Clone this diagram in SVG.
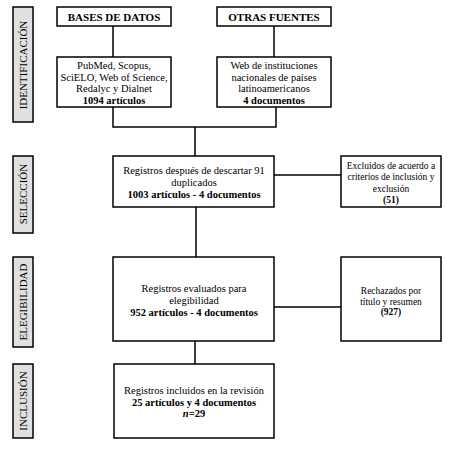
<svg xmlns="http://www.w3.org/2000/svg" width="456" height="454" viewBox="0 0 456 454">
<style>
.box{fill:#fff;stroke:#000;stroke-width:1.5}
.side{fill:#e0e0e0;stroke:#000;stroke-width:1.5}
.t{font-family:'Liberation Serif','Times New Roman',Times,Tinos,'DejaVu Serif',serif;font-size:10.5px;fill:#000;text-anchor:middle}
.s{font-size:9.5px}
.b{font-weight:bold}
.lbl{font-family:'Liberation Serif','Times New Roman',Times,Tinos,'DejaVu Serif',serif;font-size:11px;fill:#000;text-anchor:middle}
.c{stroke:#000;stroke-width:1.5;fill:none}
</style>
<rect width="456" height="454" fill="#fff"/>
<g id="connectors">
<path class="c" d="M113,26V57M274,26V57M113,107V127H276V107M195,127V156M274,175H341M196,207V257M274,307H341M195,341V364"/>
</g>
<g id="side-identificacion"><rect class="side" x="13" y="7" width="20" height="115"/><text class="lbl" transform="translate(27,65) rotate(-90)">IDENTIFICACIÓN</text></g>
<g id="side-seleccion"><rect class="side" x="13" y="156" width="20" height="77"/><text class="lbl" transform="translate(27,194) rotate(-90)">SELECCIÓN</text></g>
<g id="side-elegibilidad"><rect class="side" x="13" y="257" width="20" height="90"/><text class="lbl" transform="translate(27,302) rotate(-90)">ELEGIBILIDAD</text></g>
<g id="side-inclusion"><rect class="side" x="13" y="364" width="20" height="74"/><text class="lbl" transform="translate(27,401) rotate(-90)">INCLUSIÓN</text></g>
<g id="bases"><rect class="box" x="57" y="7" width="114" height="19"/><text class="t b" x="114" y="20.5" style="font-size:11px">BASES DE DATOS</text></g>
<g id="otras"><rect class="box" x="217" y="7" width="114" height="19"/><text class="t b" x="274" y="20.5" style="font-size:11px">OTRAS FUENTES</text></g>
<g id="pubmed"><rect class="box" x="57" y="57" width="114" height="50"/>
<text class="t" x="114" y="68.5">PubMed, Scopus,</text>
<text class="t" x="114" y="80.5">SciELO, Web of Science,</text>
<text class="t" x="114" y="92">Redalyc y Dialnet</text>
<text class="t b" x="114" y="103.5">1094 artículos</text></g>
<g id="web"><rect class="box" x="217" y="57" width="114" height="50"/>
<text class="t" x="274" y="68.5">Web de instituciones</text>
<text class="t" x="274" y="80.5">nacionales de países</text>
<text class="t" x="274" y="92">latinoamericanos</text>
<text class="t b" x="274" y="103.5">4 documentos</text></g>
<g id="registros"><rect class="box" x="113" y="156" width="161" height="51"/>
<text class="t" x="194" y="173.5">Registros después de descartar 91</text>
<text class="t" x="194" y="186">duplicados</text>
<text class="t b" x="194" y="198">1003 artículos - 4 documentos</text></g>
<g id="excluidos"><rect class="box" x="341" y="156" width="100" height="51"/>
<text class="t s" x="391" y="168.5">Excluidos de acuerdo a</text>
<text class="t s" x="391" y="180">criterios de inclusión y</text>
<text class="t s" x="391" y="191.5">exclusión</text>
<text class="t s b" x="391" y="203">(51)</text></g>
<g id="evaluados"><rect class="box" x="113" y="257" width="161" height="84"/>
<text class="t" x="194" y="291.5">Registros evaluados para</text>
<text class="t" x="194" y="304">elegibilidad</text>
<text class="t b" x="194" y="316">952 artículos - 4 documentos</text></g>
<g id="rechazados"><rect class="box" x="341" y="257" width="100" height="84"/>
<text class="t s" x="391" y="293.5">Rechazados por</text>
<text class="t s" x="391" y="304.5">título y resumen</text>
<text class="t s b" x="391" y="315">(927)</text></g>
<g id="incluidos"><rect class="box" x="114" y="364" width="160" height="74"/>
<text class="t" x="194" y="393.5">Registros incluidos en la revisión</text>
<text class="t b" x="194" y="405.5">25 artículos y 4 documentos</text>
<text class="t b" x="194" y="417"><tspan font-style="italic">n</tspan>=29</text></g>
</svg>
